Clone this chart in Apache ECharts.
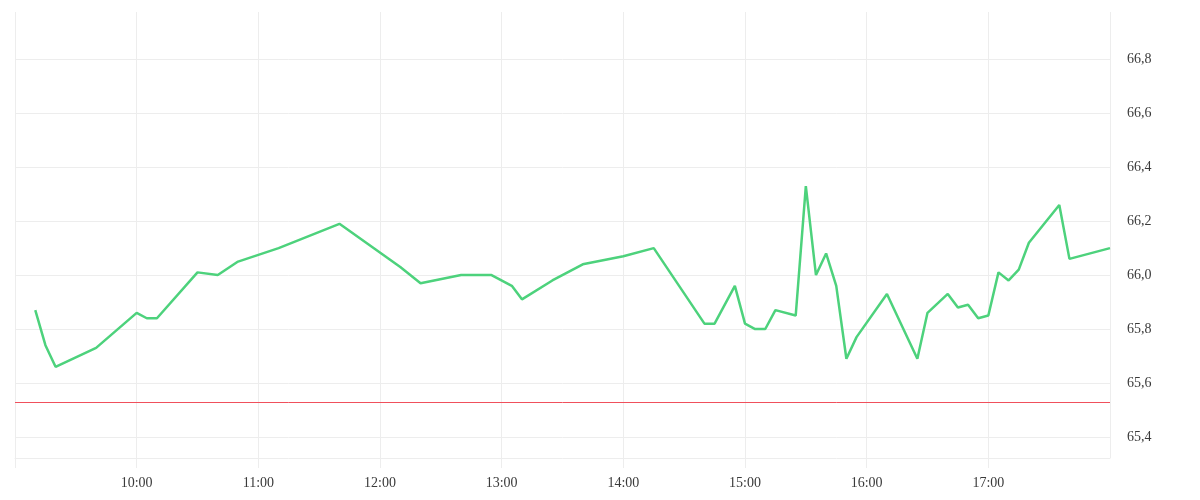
<!DOCTYPE html>
<html>
<head>
<meta charset="utf-8">
<script src="https://cdn.jsdelivr.net/npm/echarts@6/dist/echarts.min.js"></script>
<style>html,body{margin:0;padding:0;background:#fff}#c{width:1200px;height:500px}</style>
</head>
<body>
<div id="c"></div>
<script>
const day = '2024-01-15';
const times = ['09:10','09:15','09:20','09:40','10:00','10:05','10:10','10:30','10:40','10:50','11:10','11:40','12:10','12:20','12:40','12:55','13:05','13:10','13:25','13:40','14:00','14:15','14:40','14:45','14:55','15:00','15:05','15:10','15:15','15:25','15:30','15:35','15:40','15:45','15:50','15:55','16:10','16:25','16:30','16:40','16:45','16:50','16:55','17:00','17:05','17:10','17:15','17:20','17:35','17:40','18:00'];
const prices = [65.87,65.74,65.66,65.73,65.86,65.84,65.84,66.01,66.00,66.05,66.10,66.19,66.03,65.97,66.00,66.00,65.96,65.91,65.98,66.04,66.07,66.10,65.82,65.82,65.96,65.82,65.80,65.80,65.87,65.85,66.33,66.00,66.08,65.96,65.69,65.77,65.93,65.69,65.86,65.93,65.88,65.89,65.84,65.85,66.01,65.98,66.02,66.12,66.26,66.06,66.10];
const refLevel = 65.53;
const axisStart = '09:00';
const axisEnd = '18:00';
const yMin = 65.322;
const yMax = 66.975;
const yTicks = [65.4, 65.6, 65.8, 66.0, 66.2, 66.4, 66.6, 66.8];

const data = times.map((t, i) => [day + ' ' + t, prices[i]]);
const chart = echarts.init(document.getElementById('c'));
const font = 'Liberation Serif';
chart.setOption({
  animation: false,
  grid: {left: 15, right: 90, top: 12, bottom: 42, containLabel: false},
  xAxis: {
    type: 'time',
    min: day + ' ' + axisStart,
    max: day + ' ' + axisEnd,
    minInterval: 3600000,
    maxInterval: 3600000,
    axisLine: {show: true, lineStyle: {color: '#ededed', width: 1}},
    axisTick: {show: true, length: 10, lineStyle: {color: '#ededed'}},
    splitLine: {show: true, lineStyle: {color: '#ededed'}},
    axisLabel: {
      margin: 18, color: '#3a3a3a', fontFamily: font, fontSize: 14,
      formatter: function (v) {
        const d = new Date(v);
        const h = d.getHours();
        if (h <= 9 || h >= 18) return '';
        return String(h).padStart(2, '0') + ':' + String(d.getMinutes()).padStart(2, '0');
      }
    }
  },
  yAxis: {
    type: 'value',
    position: 'right',
    min: yMin, max: yMax,
    axisLine: {show: false},
    axisTick: {show: false, customValues: yTicks},
    splitLine: {show: true, lineStyle: {color: '#ededed'}},
    axisLabel: {
      customValues: yTicks,
      margin: 17, color: '#3a3a3a', fontFamily: font, fontSize: 14,
      padding: [5, 0, 0, 0],
      formatter: v => v.toFixed(1).replace('.', ',')
    }
  },
  series: [{
    type: 'line',
    data: data,
    showSymbol: false,
    symbol: 'none',
    lineStyle: {color: '#4dd27c', width: 2.5},
    itemStyle: {color: '#4dd27c'},
    markLine: {
      silent: true,
      symbol: 'none',
      label: {show: false},
      lineStyle: {color: '#f0505c', width: 1, type: 'solid'},
      data: [{yAxis: refLevel}]
    }
  }]
});
</script>
</body>
</html>
